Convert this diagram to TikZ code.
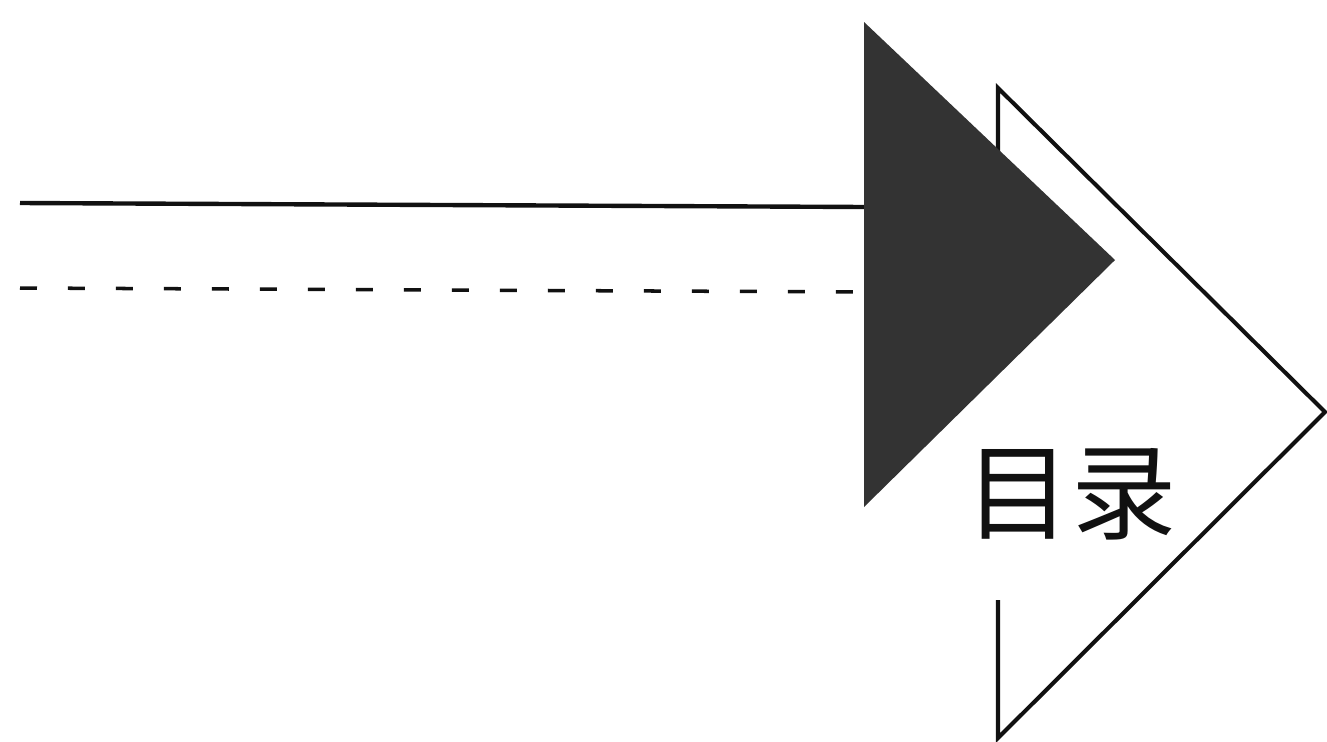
\documentclass[tikz,border=0pt]{standalone}
\usepackage{fontspec}
\usepackage{tikz}
\usetikzlibrary{positioning}
\newfontfamily\cjk{Noto Sans CJK SC}
\definecolor{mlblack}{HTML}{111111}
\definecolor{mlshade}{HTML}{333333}
\tikzset{
  solidln/.style = {draw=mlblack, line width=2.5pt},
  dashln/.style  = {draw=mlblack, line width=2pt, dash pattern=on 0.34cm off 0.62cm},
  wedge/.style   = {fill=mlshade, draw=none},
  chev/.style    = {draw=mlblack, line width=2.3pt, line join=miter},
  ttl/.style     = {font=\cjk\fontsize{60}{60}\selectfont, inner sep=0pt, text=mlblack},
}
\begin{document}
\begin{tikzpicture}[x=0.02cm,y=-0.02cm]
  \useasboundingbox (0,0) rectangle (1327,741);
  % triangle corners
  \coordinate (wt) at (864,22);
  \coordinate (wr) at (1115,260);
  \coordinate (wb) at (864,507);
  % chevron corners
  \coordinate (ct) at (998,88);
  \coordinate (cr) at (1325,412);
  \coordinate (cb) at (998,738);
  \coordinate (cu) at (998,160);
  \coordinate (cl) at (998,600);
  % line ends
  \coordinate (sa) at (20,203);
  \coordinate (sb) at (866,207);
  \coordinate (da) at (20,288);
  \coordinate (db) at (866,292);
  \draw[chev] (cl) -- (cb) -- (cr) -- (ct) -- (cu);
  \draw[solidln] (sa) -- (sb);
  \draw[dashln] (da) -- (db);
  \fill[wedge] (wt) -- (wr) -- (wb) -- cycle;
  \node[ttl] (title) at (1071,494) {目录};
\end{tikzpicture}
\end{document}
